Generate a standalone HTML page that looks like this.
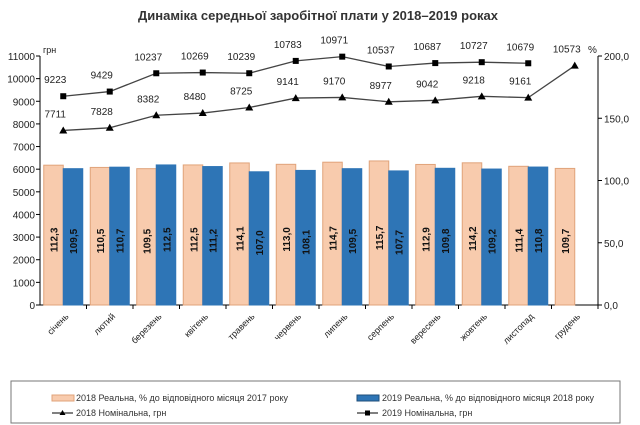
<!DOCTYPE html>
<html><head><meta charset="utf-8"><style>
html,body{margin:0;padding:0;background:#fff;}
svg{display:block;font-family:"Liberation Sans","DejaVu Sans",sans-serif;}
</style></head><body>
<svg id="chart" width="640" height="425" viewBox="0 0 640 425">
<text x="318" y="20" text-anchor="middle" font-size="13" font-weight="bold" fill="#333">Динаміка середньої заробітної плати у 2018–2019 роках</text>
<g id="axes"></g><g id="bars"></g><g id="lines"></g>
<rect x="11" y="381" width="609" height="42" fill="none" stroke="#777" stroke-width="1"/>
<g><rect x="52" y="395" width="22" height="6" fill="#f8cbad" stroke="#e0a37a"/><text x="76" y="401" font-size="9" fill="#333">2018 Реальна, % до відповідного місяця 2017 року</text></g>
<g><rect x="357" y="395" width="22" height="6" fill="#2e75b6" stroke="#1f4e79"/><text x="382" y="401" font-size="9" fill="#333">2019 Реальна, % до відповідного місяця 2018 року</text></g>
<g><line x1="52" y1="413" x2="73" y2="413" stroke="#000"/><path d="M62.5,410 L65.5,415 L59.5,415 Z" fill="#000"/><text x="76" y="416" font-size="9" fill="#333">2018 Номінальна, грн</text></g>
<g><line x1="357" y1="413" x2="378" y2="413" stroke="#000"/><rect x="365" y="410.5" width="5" height="5" fill="#000"/><text x="382" y="416" font-size="9" fill="#333">2019 Номінальна, грн</text></g>
</svg>
<script>
const months=["січень","лютий","березень","квітень","травень","червень","липень","серпень","вересень","жовтень","листопад","грудень"];
const real2018=[112.3,110.5,109.5,112.5,114.1,113.0,114.7,115.7,112.9,114.2,111.4,109.7];
const real2019=[109.5,110.7,112.5,111.2,107.0,108.1,109.5,107.7,109.8,109.2,110.8];
const nom2018=[7711,7828,8382,8480,8725,9141,9170,8977,9042,9218,9161,10573];
const nom2019=[9223,9429,10237,10269,10239,10783,10971,10537,10687,10727,10679];
const leftTicks=[0,1000,2000,3000,4000,5000,6000,7000,8000,9000,10000,11000];
const rightTicks=["0,0","50,0","100,0","150,0","200,0"];
const NS="http://www.w3.org/2000/svg";
const X0=40,X1=598,Y0=305,YT=56;
const bw=(X1-X0)/months.length;
const yL=v=>Y0-v*(Y0-YT)/11000;
const yR=v=>Y0-v*(Y0-YT)/200;
const cx=i=>X0+bw*(i+0.5);
function mk(p,tag,a){const e=document.createElementNS(NS,tag);for(const k in a)e.setAttribute(k,a[k]);p.appendChild(e);return e;}
const ax=document.getElementById('axes'),bg=document.getElementById('bars'),lg=document.getElementById('lines');
let e;
e=mk(ax,'line',{x1:X0,y1:YT,x2:X0,y2:Y0,stroke:'#000'});


e=mk(ax,'line',{x1:X1,y1:YT,x2:X1,y2:Y0,stroke:'#000'});


e=mk(ax,'line',{x1:X0,y1:Y0,x2:X1,y2:Y0,stroke:'#000'});


leftTicks.forEach(v=>{mk(ax,'line',{x1:X0-4,y1:yL(v),x2:X0,y2:yL(v),stroke:'#000'});
e=mk(ax,'text',{x:X0-5,y:yL(v)+4,'text-anchor':'end','font-size':10,fill:'#222'});e.textContent=v;

});
rightTicks.forEach((t,i)=>{const v=i*50;mk(ax,'line',{x1:X1,y1:yR(v),x2:X1+4,y2:yR(v),stroke:'#000'});
e=mk(ax,'text',{x:X1+6,y:yR(v)+4,'font-size':10,fill:'#222'});e.textContent=t;

});
e=mk(ax,'text',{x:X0+3,y:YT-3,'font-size':9,fill:'#222'});e.textContent='грн';


e=mk(ax,'text',{x:X1-10,y:YT-3,'font-size':10,fill:'#222'});e.textContent='%';


months.forEach((m,i)=>{const tx=X0+bw*(i+1);mk(ax,'line',{x1:tx,y1:Y0,x2:tx,y2:Y0+4,stroke:'#000'});
const lx=cx(i)+6,ly=Y0+12;
e=mk(ax,'text',{x:lx,y:ly,'text-anchor':'end','font-size':9,fill:'#222',transform:`rotate(-45 ${lx} ${ly})`});e.textContent=m;

});
function bar(v,x,fill,stroke,name){
e=mk(bg,'rect',{x:x,y:yR(v),width:19.5,height:Y0-yR(v),fill:fill,stroke:stroke,'stroke-width':1});


const tx=x+14,ty=(Y0+yR(v))/2+17;
e=mk(bg,'text',{x:tx,y:ty,'font-size':10,'font-weight':'bold',fill:'#111',transform:`rotate(-90 ${tx} ${ty})`});
e.textContent=v.toFixed(1).replace('.',',');

}
real2018.forEach((v,i)=>bar(v,cx(i)-19.5,'#f8cbad','#e0a37a','bar-2018-real'));
real2019.forEach((v,i)=>bar(v,cx(i),'#2e75b6','#2e75b6','bar-2019-real'));
function line(arr,name,marker){
e=mk(lg,'polyline',{points:arr.map((v,i)=>cx(i)+','+yL(v)).join(' '),fill:'none',stroke:'#444','stroke-width':1.3});


arr.forEach((v,i)=>{const x=cx(i),y=yL(v);
if(marker==='tri')e=mk(lg,'path',{d:`M${x},${y-4} L${x+4},${y+3} L${x-4},${y+3} Z`,fill:'#000'});
else e=mk(lg,'rect',{x:x-3,y:y-3,width:6,height:6,fill:'#000'});


e=mk(lg,'text',{x:x-8,y:y-13,'text-anchor':'middle','font-size':10,fill:'#222'});e.textContent=v;

});}
line(nom2018,'nominal-2018','tri');
line(nom2019,'nominal-2019','sq');
</script>
</body></html>
